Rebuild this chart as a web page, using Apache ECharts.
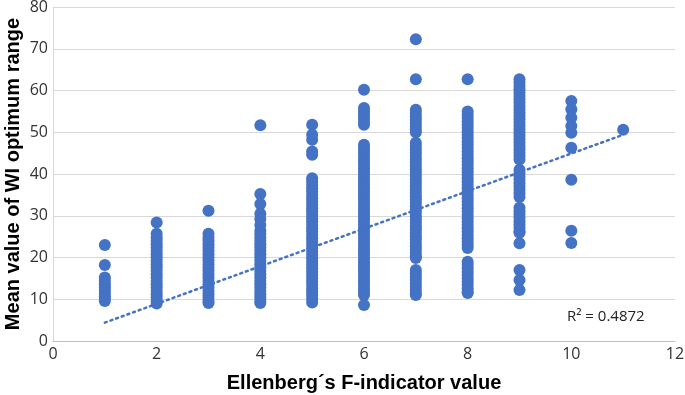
<!DOCTYPE html>
<html>
<head>
<meta charset="utf-8">
<script src="https://cdn.jsdelivr.net/npm/echarts@6/dist/echarts.min.js"></script>
<style>html,body{margin:0;padding:0;background:#fff}#c{width:685px;height:395px}</style>
</head>
<body>
<div id="c"></div>
<script>
// Ellenberg F-indicator value (x) and mean WI optimum values (y) per column
var col1 = [23, 18.2, 15.2, 14.4, 13.6, 12.8, 12.1, 11.4, 10.7, 10.1, 9.6];
var col2 = [28.4, 25.7, 24.8, 24, 23.2, 22.4, 21.6, 20.8, 20, 19.2, 18.4, 17.6, 16.8, 16, 15.2, 14.4, 13.6, 12.8, 12, 11.2, 10.4, 9.6, 9];
var col3 = [31.2, 25.7, 24.8, 24, 23.2, 22.4, 21.6, 20.8, 20, 19.2, 18.4, 17.6, 16.8, 16, 15.2, 14.4, 13.6, 12.8, 12, 11.2, 10.4, 9.6, 9.1];
var col4 = [51.7, 35.2, 32.8, 30.5, 29.2, 27.8, 26.4, 25.6, 24.8, 24, 23.2, 22.4, 21.6, 20.8, 20, 19.2, 18.4, 17.6, 16.8, 16, 15.2, 14.4, 13.6, 12.8, 12, 11.2, 10.4, 9.6, 9.1];
var col5 = [51.8, 49.4, 48.2, 45.4, 44.6, 39, 38.2, 37.4, 36.6, 35.8, 35, 34.2, 33.4, 32.6, 31.8, 31, 30.2, 29.4, 28.6, 27.8, 27, 26.2, 25.4, 24.6, 23.8, 23, 22.2, 21.4, 20.6, 19.8, 19, 18.2, 17.4, 16.6, 15.8, 15, 14.2, 13.4, 12.6, 11.8, 11, 10.2, 9.2];
var col6 = [60.2, 55.8, 55, 54.2, 53.4, 52.6, 51.8, 47, 46.2, 45.4, 44.6, 43.8, 43, 42.2, 41.4, 40.6, 39.8, 39, 38.2, 37.4, 36.6, 35.8, 35, 34.2, 33.4, 32.6, 31.8, 31, 30.2, 29.4, 28.6, 27.8, 27, 26.2, 25.4, 24.6, 23.8, 23, 22.2, 21.4, 20.6, 19.8, 19, 18.2, 17.4, 16.6, 15.8, 15, 14.2, 13.4, 12.6, 11.8, 11, 8.6];
var col7 = [72.3, 62.7, 55.4, 54.6, 53.8, 53, 52.2, 51.4, 50.6, 50, 47.5, 46.7, 45.9, 45.1, 44.3, 43.5, 42.7, 41.9, 41.1, 40.3, 39.5, 38.7, 37.9, 37.1, 36.3, 35.5, 34.7, 33.9, 33.1, 32.3, 31.5, 30.7, 29.9, 29.1, 28.3, 27.5, 26.7, 25.9, 25.1, 24.3, 23.5, 22.7, 21.9, 21.1, 20.3, 19.9, 17, 16.2, 15.4, 14.6, 13.8, 13, 12.2, 11.4, 11];
var col8 = [62.7, 55, 54.2, 53.4, 52.6, 51.8, 51, 50.2, 49.4, 48.6, 47.8, 47, 46.2, 45.4, 44.6, 43.8, 43, 42.2, 41.4, 40.6, 39.8, 39, 38.2, 37.4, 36.6, 35.8, 35, 34.2, 33.4, 32.6, 31.8, 31, 30.2, 29.4, 28.6, 27.8, 27, 26.2, 25.4, 24.6, 23.8, 23, 22.3, 19, 18.2, 17.4, 16.6, 15.8, 15, 14.2, 13.4, 12.6, 11.8, 11.5];
var col9 = [62.7, 61.9, 61.1, 60.3, 59.5, 58.7, 57.9, 57.1, 56.3, 55.5, 54.7, 53.9, 53.1, 52.3, 51.5, 50.7, 49.9, 49.1, 48.3, 47.5, 46.7, 45.9, 45.1, 44.3, 43.5, 41, 40.2, 39.4, 38.6, 37.8, 37, 36.2, 35.4, 34.5, 31.9, 31.1, 30.3, 29.5, 28.7, 27.9, 27.1, 26.3, 25.9, 23.4, 17, 14.6, 12.2];
var col10 = [57.5, 55.5, 53.5, 51.5, 49.9, 46.3, 38.6, 26.4, 23.5];
var col11 = [50.6];
var xTicks = [0, 2, 4, 6, 8, 10, 12];
var yTicks = [0, 10, 20, 30, 40, 50, 60, 70, 80];
// linear trendline end points (x, y)
var trendX = [1, 11];
var trendY = [4.4, 49.4];
var r2Label = 'R² = 0.4872';

var columns = [col1, col2, col3, col4, col5, col6, col7, col8, col9, col10, col11];
var pts = [];
columns.forEach(function (vals, i) {
  vals.forEach(function (v) { pts.push([i + 1, v]); });
});
var trend = trendX.map(function (x, i) { return [x, trendY[i]]; });

var blue = '#4472C4';
var chart = echarts.init(document.getElementById('c'));
chart.setOption({
  animation: false,
  grid: { left: 53, right: 10, top: 7, bottom: 54, containLabel: false, outerBoundsMode: 'none' },
  xAxis: {
    type: 'value', min: xTicks[0], max: xTicks[xTicks.length - 1], interval: 2,
    name: 'Ellenberg´s F-indicator value', nameLocation: 'middle', nameGap: 32, nameMoveOverlap: false,
    nameTextStyle: { fontFamily: 'Liberation Sans', fontWeight: 'bold', fontSize: 20, color: '#000' },
    axisLine: { show: true, lineStyle: { color: '#BFBFBF', width: 1 } },
    axisTick: { show: false },
    splitLine: { show: false },
    axisLabel: { fontFamily: 'Open Sans', fontSize: 16, color: '#333', margin: 5 }
  },
  yAxis: {
    type: 'value', min: yTicks[0], max: yTicks[yTicks.length - 1], interval: 10,
    name: 'Mean value of WI optimum range', nameLocation: 'middle', nameGap: 30, nameMoveOverlap: false,
    nameTextStyle: { fontFamily: 'Liberation Sans', fontWeight: 'bold', fontSize: 20, color: '#000' },
    axisLine: { show: true, lineStyle: { color: '#D9D9D9', width: 1 } },
    axisTick: { show: false },
    splitLine: { show: true, lineStyle: { color: '#D9D9D9', width: 1 } },
    axisLabel: { fontFamily: 'Open Sans', fontSize: 16, color: '#333', margin: 5 }
  },
  series: [
    {
      type: 'scatter', data: pts, symbolSize: 12,
      itemStyle: { color: blue, opacity: 1 }
    },
    {
      type: 'line', data: trend, symbol: 'none', z: 3,
      lineStyle: { color: blue, width: 2.5, type: [2, 4], cap: 'round' }
    }
  ],
  graphic: [{
    type: 'text', left: 567, top: 309,
    style: { text: r2Label, fontFamily: 'Open Sans', fontSize: 15, fill: '#222' }
  }]
});
</script>
</body>
</html>
